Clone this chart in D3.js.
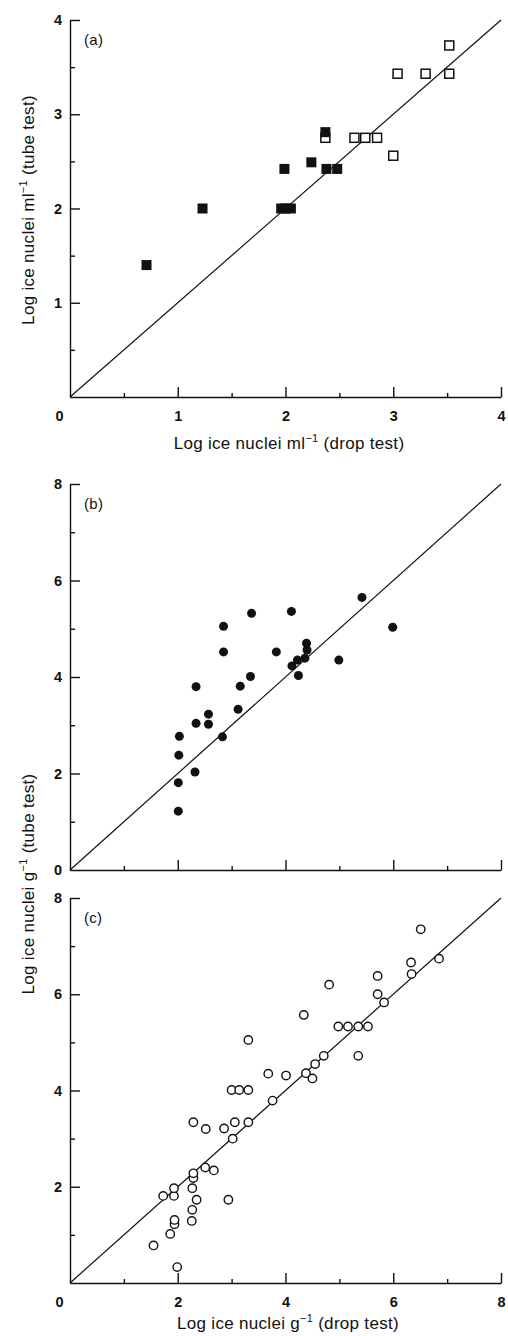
<!DOCTYPE html>
<html>
<head>
<meta charset="utf-8">
<script src="https://cdn.jsdelivr.net/npm/d3@7"></script>
<style>
  body { margin: 0; background: #fff; }
  svg { display: block; }
  .tick text { font-family: "Liberation Sans", Arial, sans-serif; font-weight: bold; font-size: 14.5px; fill: #111; }
  .domain, .tick line { stroke: #111; stroke-width: 1.4; }
  .lbl { font-family: "Liberation Sans", Arial, sans-serif; font-size: 17px; letter-spacing: 0.3px; fill: #111; }
</style>
</head>
<body>
<svg id="chart" width="508" height="1336"></svg>
<script>
// panel (a): drop test vs tube test, ml-1
var aFilledX = [0.71, 1.23, 1.96, 2.00, 2.05, 1.99, 2.24, 2.37, 2.38, 2.48];
var aFilledY = [1.40, 2.00, 2.00, 2.00, 2.00, 2.42, 2.49, 2.81, 2.42, 2.42];
var aOpenX = [2.37, 2.64, 2.74, 2.85, 3.00, 3.04, 3.30, 3.52, 3.52];
var aOpenY = [2.75, 2.75, 2.75, 2.75, 2.56, 3.43, 3.43, 3.43, 3.73];

// panel (b): filled circles, g-1
var bX = [2.01, 2.01, 2.02, 2.03, 2.32, 2.34, 2.34, 2.57, 2.57, 2.83, 2.85, 2.85, 3.12, 3.16,
          3.35, 3.37, 3.83, 4.11, 4.12, 4.22, 4.24, 4.36, 4.40, 4.39, 4.99, 5.42, 5.99];
var bY = [1.22, 1.81, 2.38, 2.77, 2.03, 3.04, 3.80, 3.23, 3.02, 2.76, 4.52, 5.05, 3.33, 3.81,
          4.01, 5.32, 4.52, 5.36, 4.23, 4.35, 4.03, 4.39, 4.56, 4.70, 4.35, 5.65, 5.03];

// panel (c): open circles, g-1
var cX = [1.55, 1.99, 1.86, 1.94, 1.94, 1.73, 1.93, 1.93, 2.26, 2.27, 2.35, 2.27, 2.29, 2.29,
          2.29, 2.51, 2.67, 2.52, 2.86, 2.94, 3.02, 3.06, 3.00, 3.14, 3.31, 3.31, 3.31, 3.68,
          3.76, 4.01, 4.34, 4.38, 4.50, 4.55, 4.71, 4.81, 4.98, 5.16, 5.35, 5.53, 5.35, 5.71,
          5.71, 5.83, 6.34, 6.33, 6.51, 6.85];
var cY = [0.78, 0.33, 1.02, 1.22, 1.31, 1.81, 1.81, 1.97, 1.29, 1.52, 1.73, 1.97, 2.18, 2.28,
          3.34, 2.40, 2.34, 3.20, 3.21, 1.73, 3.00, 3.34, 4.01, 4.01, 4.01, 3.34, 5.05, 4.35,
          3.79, 4.31, 5.57, 4.36, 4.25, 4.55, 4.72, 6.20, 5.33, 5.33, 5.33, 5.33, 4.72, 6.00,
          6.38, 5.83, 6.42, 6.66, 7.35, 6.74];

var aMajor = [1, 2, 3, 4];
var aMinor = [0.5, 1.5, 2.5, 3.5];
var bcMajor = [2, 4, 6, 8];
var bcMinor = [1, 3, 5, 7];

var svg = d3.select("#chart");
var left = 70, right = 501;

function zip(xs, ys){
    return d3.zip(xs, ys);
}

function panel(top, bottom, max, major, minor, opts){
    var x = d3.scaleLinear().domain([0, max]).range([left, right]);
    var y = d3.scaleLinear().domain([0, max]).range([bottom, top]);
    var g = svg.append("g");

    // minor ticks first
    g.append("g")
        .attr("transform", "translate(0," + bottom + ")")
        .call(d3.axisBottom(x).tickValues(minor).tickSize(-4).tickFormat(""))
        .select(".domain").remove();
    g.append("g")
        .attr("transform", "translate(" + left + ",0)")
        .call(d3.axisLeft(y).tickValues(minor).tickSize(-5).tickFormat(""))
        .select(".domain").remove();

    var xTicks = opts.xLabels ? [0].concat(major) : major;
    var xa = g.append("g")
        .attr("transform", "translate(0," + bottom + ")")
        .call(d3.axisBottom(x).tickValues(xTicks).tickSize(-10).tickSizeOuter(0).tickPadding(14)
            .tickFormat(opts.xLabels ? d3.format("d") : ""));
    xa.selectAll(".tick").filter(function(d){ return d === 0; })
        .select("line").remove();
    xa.selectAll(".tick text").filter(function(d){ return d === 0; })
        .attr("x", -11);

    var yTicks = opts.yZero ? [0].concat(major) : major;
    var ya = g.append("g")
        .attr("transform", "translate(" + left + ",0)")
        .call(d3.axisLeft(y).tickValues(yTicks).tickSize(-10).tickSizeOuter(0).tickPadding(8)
            .tickFormat(d3.format("d")));
    ya.selectAll(".tick").filter(function(d){ return d === 0; })
        .select("line").remove();

    // 1:1 line
    g.append("path")
        .datum([0, max])
        .attr("fill", "none")
        .attr("stroke", "#111")
        .attr("stroke-width", 1.2)
        .attr("d", d3.line().x(function(d){ return x(d); }).y(function(d){ return y(d); }));

    g.append("text")
        .attr("class", "lbl")
        .attr("x", 84)
        .attr("y", top + 25)
        .style("font-size", "15px")
        .text(opts.name);

    return {g: g, x: x, y: y};
}

// (a)
var pa = panel(20, 397, 4, aMajor, aMinor, {xLabels: true, yZero: false, name: "(a)"});
pa.g.append("g").selectAll("rect")
    .data(zip(aOpenX, aOpenY))
    .enter().append("rect")
    .attr("x", function(d){ return pa.x(d[0]) - 4.5; })
    .attr("y", function(d){ return pa.y(d[1]) - 4.5; })
    .attr("width", 9).attr("height", 9)
    .attr("fill", "#fff").attr("stroke", "#111").attr("stroke-width", 1.5);
pa.g.append("g").selectAll("rect")
    .data(zip(aFilledX, aFilledY))
    .enter().append("rect")
    .attr("x", function(d){ return pa.x(d[0]) - 5; })
    .attr("y", function(d){ return pa.y(d[1]) - 5; })
    .attr("width", 10).attr("height", 10)
    .attr("fill", "#111");

// (b)
var pb = panel(484, 870, 8, bcMajor, bcMinor, {xLabels: false, yZero: true, name: "(b)"});
pb.g.append("g").selectAll("circle")
    .data(zip(bX, bY))
    .enter().append("circle")
    .attr("cx", function(d){ return pb.x(d[0]); })
    .attr("cy", function(d){ return pb.y(d[1]); })
    .attr("r", 4.5)
    .attr("fill", "#111");

// (c)
var pc = panel(898, 1283, 8, bcMajor, bcMinor, {xLabels: true, yZero: false, name: "(c)"});
pc.g.append("g").selectAll("circle")
    .data(zip(cX, cY))
    .enter().append("circle")
    .attr("cx", function(d){ return pc.x(d[0]); })
    .attr("cy", function(d){ return pc.y(d[1]); })
    .attr("r", 4.2)
    .attr("fill", "#fff")
    .attr("stroke", "#111")
    .attr("stroke-width", 1.4);

// axis titles
function title(x, y, rot, pre, sup, post){
    var t = svg.append("text")
        .attr("class", "lbl")
        .attr("text-anchor", "middle")
        .attr("transform", "translate(" + x + "," + y + ")" + (rot ? " rotate(-90)" : ""));
    t.append("tspan").text(pre);
    t.append("tspan").attr("dy", -7).style("font-size", "11px").text(sup);
    t.append("tspan").attr("dy", 7).text(post);
}

title(289, 449, false, "Log ice nuclei ml", "\u22121", " (drop test)");
title(34, 210, true, "Log ice nuclei ml", "\u22121", " (tube test)");
title(34, 884, true, "Log ice nuclei g", "\u22121", " (tube test)");
title(288, 1329, false, "Log ice nuclei g", "\u22121", " (drop test)");
</script>
</body>
</html>
